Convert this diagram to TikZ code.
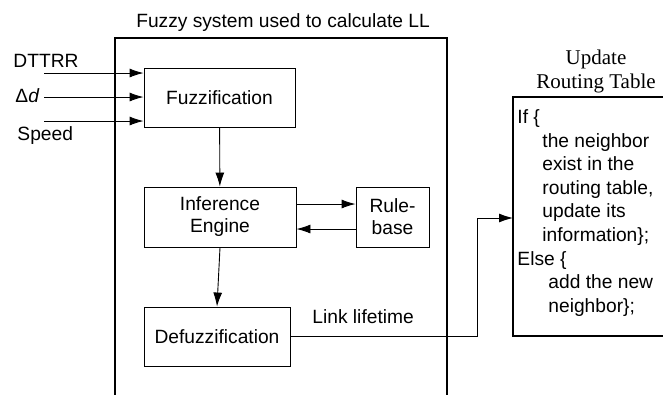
\documentclass[tikz,border=0pt]{standalone}
\usepackage{fontspec}
\setmainfont{Liberation Sans}
\newfontfamily\rtfont{Liberation Serif}
\usetikzlibrary{arrows.meta,positioning}
\tikzset{
  fbox/.style={draw,line width=0.9pt,inner sep=2pt,align=center},
  lbl/.style={inner sep=0pt,anchor=base west},
}
\begin{document}
\begin{tikzpicture}[x=1pt,y=-1pt,>={Latex[length=14pt,width=9pt]},line width=0.9pt,
  font=\fontsize{19.2}{22}\selectfont]
\useasboundingbox (0,0) rectangle (663,394);
% outer frame of the fuzzy system
    \draw[line width=1.8pt] (115,400) |- (447,38) -- (447,400);
    \node[inner sep=0pt,anchor=base] (title) at (283,27) {Fuzzy system used to calculate LL};
% blocks
    \node[fbox,minimum width=151pt,minimum height=59pt] (fuzz) at (219.5,97.5) {Fuzzification};
    \node[fbox,minimum width=152pt,minimum height=60pt] (infer) at (220,217) {Inference\\Engine};
    \node[fbox,minimum width=73pt,minimum height=60pt] (rule) at (392.5,217) {Rule-\\base};
    \node[fbox,minimum width=146pt,minimum height=59pt] (defuzz) at (217,336.5) {Defuzzification};
% inputs
    \node[lbl] (dttrr) at (13,67) {DTTRR};
    \node[lbl] (dd) at (15,102) {Δ\textit{d}};
    \node[lbl] (speed) at (17,140) {Speed};
    \foreach \yp [count=\i] in {73,97,121}{
      \coordinate (in\i) at (44,\yp);
      \draw[->] (in\i) -- (in\i -| fuzz.west);}
% inner links
    \draw[->] (fuzz) -- (infer);
    \draw[->] ([yshift=13pt]infer.east) -- ([yshift=13pt]rule.west);
    \draw[->] ([yshift=-12pt]rule.west) -- ([yshift=-12pt]infer.east);
    \draw[->] (infer.south) -- (defuzz.north);
% routing table
    \draw[line width=1.8pt] (670,97) -| (513,336) -- (670,336);
    \node[inner sep=0pt,anchor=north,align=center,font=\rtfont\fontsize{21}{24}\selectfont] (upd) at (596,49) {Update\\Routing Table};
    \foreach \xp/\txt [count=\i] in {0/{If \{},25/{the neighbor},25/{exist in the},25/{routing table,},
      25/{update its},25/{information\};},0/{Else \{},31/{add the new},31/{neighbor\};}}{
      \node[lbl] (rt\i) at (517+\xp,123.5+23.6*\i-23.6) {\txt};}
    \coordinate (bend) at (477,218);
    \draw[->] (defuzz.east) -| (bend) -- (bend -| 513,0);
    \node[lbl] (life) at (312,323) {Link lifetime};
\end{tikzpicture}
\end{document}
